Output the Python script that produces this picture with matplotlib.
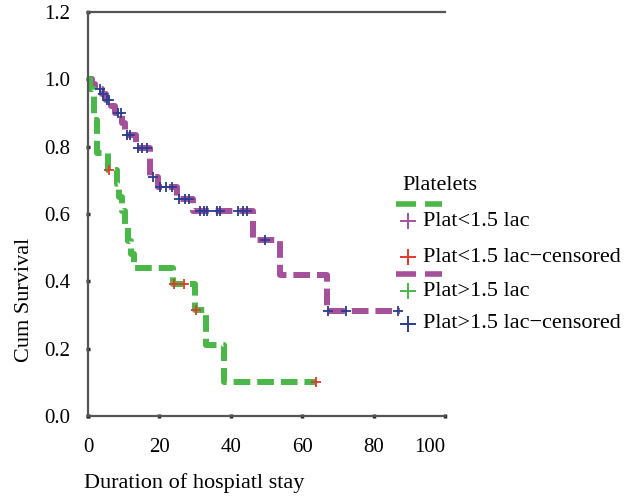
import numpy as np
import matplotlib
matplotlib.use("Agg")
import matplotlib.pyplot as plt
from matplotlib.lines import Line2D
from matplotlib.transforms import ScaledTranslation

plt.rcParams['font.family'] = ['Liberation Serif', 'DejaVu Serif']
plt.rcParams['lines.scale_dashes'] = False

# Kaplan-Meier steps
# Plat>1.5 lac (purple line, blue censor marks)
hi_t = [0, 1.0, 2.0, 3.8, 5.0, 6.5, 7.5, 9.6, 10.4, 13.5, 17.4, 19.6, 24.9, 29.3, 46.2, 53.8, 66.9]
hi_s = [1.0, 0.985, 0.97, 0.955, 0.94, 0.92, 0.90, 0.87, 0.835, 0.795, 0.71, 0.68, 0.645, 0.61, 0.522, 0.42, 0.313]
hi_end = 87.4
hi_cens_t = [3.4, 4.2, 5.3, 5.9, 8.5, 9.2, 10.8, 11.8, 14.1, 15.2, 16.4, 18.3, 20.2, 21.8, 23.4,
             25.6, 27.2, 28.4, 31.4, 32.5, 33.4, 36.1, 37.0, 42.1, 43.5, 44.6, 49.6, 67.2, 72.2, 86.8]
hi_cens_s = [0.97, 0.955, 0.94, 0.94, 0.90, 0.90, 0.835, 0.835, 0.795, 0.795, 0.795, 0.71, 0.68, 0.68, 0.68,
             0.645, 0.645, 0.645, 0.61, 0.61, 0.61, 0.61, 0.61, 0.61, 0.61, 0.61, 0.522, 0.313, 0.313, 0.313]

# Plat<1.5 lac (green line, red censor marks)
lo_t = [0, 0.5, 1.8, 2.4, 5.6, 8.1, 8.8, 9.6, 10.4, 11.2, 12.0, 12.8, 23.8, 30.0, 33.1, 38.1]
lo_s = [1.0, 0.97, 0.88, 0.78, 0.73, 0.69, 0.65, 0.61, 0.57, 0.52, 0.48, 0.441, 0.391, 0.315, 0.212, 0.102]
lo_end = 63.8
lo_cens_t = [5.9, 24.2, 27.0, 30.2, 63.8]
lo_cens_s = [0.73, 0.391, 0.391, 0.315, 0.102]

xticks = [0, 20, 40, 60, 80, 100]
yticks = [0.0, 0.2, 0.4, 0.6, 0.8, 1.0, 1.2]

purple = '#a4509a'
green = '#4bb748'
blue = '#2a3d8f'
red = '#e03a2a'

W, H = 636, 497
fig = plt.figure(figsize=(W / 100, H / 100), dpi=100)
ax = fig.add_axes([88 / W, 1 - 416 / H, (445 - 88) / W, (416 - 12) / H])

dash = (12, 5)
ax.step(np.append(hi_t, hi_end), np.append(hi_s, hi_s[-1]), where='post',
        color=purple, lw=4.3, dashes=dash, zorder=2)
ax.step(np.append(lo_t, lo_end), np.append(lo_s, lo_s[-1]), where='post',
        color=green, lw=4.3, dashes=dash, zorder=2)
ax.plot(hi_cens_t, hi_cens_s, '+', color=blue, ms=7, mew=1.3, zorder=3)
ax.plot(lo_cens_t, lo_cens_s, '+', color=red, ms=7, mew=1.3, zorder=3)

ax.set_xlim(0, 100)
ax.set_ylim(0, 1.2)
ax.set_xticks(xticks)
ax.set_yticks(yticks)
ax.set_yticklabels(['%.1f' % v for v in yticks])
ax.tick_params(direction='inout', length=3, width=2.5, color='#222', labelsize=15)
ax.tick_params(axis='y', pad=11)
ax.tick_params(axis='x', pad=14)
for side in ['left', 'bottom', 'top']:
    ax.spines[side].set_color('#555')
    ax.spines[side].set_linewidth(1.6)
ax.spines['right'].set_visible(False)

# the last x label sits left of its tick in the original
lab = ax.get_xticklabels()[-1]
lab.set_transform(lab.get_transform() + ScaledTranslation(-0.15, 0, fig.dpi_scale_trans))

fig.text(25 / W, 1 - 300 / H, 'Cum Survival', rotation=90, ha='center', va='center', fontsize=16)
fig.text(84 / W, 1 - 483 / H, 'Duration of hospiatl stay', ha='left', va='center', fontsize=16)

# legend, laid out like the original
def fx(x):
    return x / W

def fy(y):
    return 1 - y / H

fig.text(fx(402), fy(186), 'Platelets', ha='left', va='center', fontsize=16)
for y, c in [(204, green), (274, purple)]:
    fig.add_artist(Line2D([fx(396), fx(442)], [fy(y), fy(y)], color=c, lw=4,
                          dashes=(14.4, 6.5), transform=fig.transFigure))
entries = [(221, purple, 'Plat<1.5 lac'),
           (257, red, 'Plat<1.5 lac\u2212censored'),
           (291, green, 'Plat>1.5 lac'),
           (324, blue, 'Plat>1.5 lac\u2212censored')]
for y, c, label in entries:
    fig.add_artist(Line2D([fx(408)], [fy(y)], marker='+', color=c, ms=11, mew=1.4,
                          transform=fig.transFigure))
    fig.text(fx(423), fy(y), label, ha='left', va='center', fontsize=16)

fig.savefig('out.png', dpi=100)
